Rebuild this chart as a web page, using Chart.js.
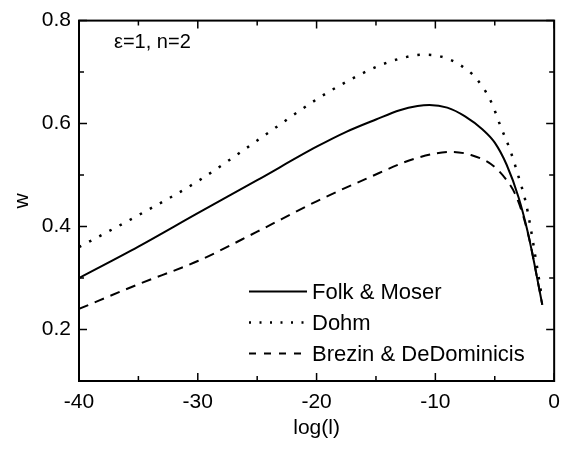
<!DOCTYPE html>
<html>
<head>
<meta charset="utf-8">
<script src="https://cdn.jsdelivr.net/npm/chart.js@4.4.1/dist/chart.umd.min.js"></script>
<style>body{margin:0;background:#fff}</style>
</head>
<body>
<canvas id="wchart" width="569" height="449"></canvas>
<script>
// curves
var fmX = [-40, -35, -30, -25, -20, -17.5, -15, -13, -11.5, -10.5, -9, -7.5, -6, -5, -4, -3, -2.2, -1.6, -1.0];
var fmY = [0.300, 0.361, 0.426, 0.490, 0.555, 0.584, 0.608, 0.626, 0.634, 0.636, 0.631, 0.614, 0.588, 0.563, 0.520, 0.457, 0.387, 0.320, 0.248];

var dohmX = [-40, -35, -30, -25, -20, -17.5, -15, -13, -11, -9.5, -8, -6.5, -5.3, -4.5, -3.7, -3.0, -2.4, -2.0, -1.5, -1.1];
var dohmY = [0.360, 0.422, 0.488, 0.567, 0.647, 0.681, 0.710, 0.726, 0.734, 0.730, 0.715, 0.686, 0.642, 0.594, 0.548, 0.497, 0.448, 0.400, 0.330, 0.272];

var bdX = [-40, -35, -30, -25, -20, -15.8, -11.7, -8.6, -7, -5.3, -4.1, -3.3, -2.6, -2.0, -1.5, -1.0];
var bdY = [0.240, 0.288, 0.333, 0.390, 0.449, 0.493, 0.532, 0.545, 0.539, 0.521, 0.493, 0.464, 0.420, 0.366, 0.308, 0.248];

var seriesNames = ['Folk & Moser', 'Dohm', 'Brezin & DeDominicis'];

// axis ticks
var xTickValues = [-40, -30, -20, -10, 0];
var xMinorTicks = [-35, -25, -15, -5];
var yTickValues = [0.2, 0.4, 0.6, 0.8];
var yMinorTicks = [0.3, 0.5, 0.7];

function toPoints(xs, ys) {
    return xs.map(function (v, i) { return {x: v, y: ys[i]}; });
}

Chart.defaults.font.family = '"Liberation Sans", Arial, sans-serif';
Chart.defaults.color = '#000';

// frame with inward ticks on all four sides
var boxTicks = {
    id: 'boxTicks',
    afterDraw: function (chart) {
        var ctx = chart.ctx, a = chart.chartArea;
        var x = chart.scales.x, y = chart.scales.y;
        ctx.save();
        ctx.strokeStyle = '#000';
        ctx.lineWidth = 2;
        ctx.strokeRect(a.left, a.top, a.right - a.left, a.bottom - a.top);
        ctx.lineWidth = 1.5;
        ctx.beginPath();
        xTickValues.concat(xMinorTicks).forEach(function (v) {
            var px = x.getPixelForValue(v);
            var len = xTickValues.indexOf(v) >= 0 ? 8 : 5;
            ctx.moveTo(px, a.bottom); ctx.lineTo(px, a.bottom - len);
            ctx.moveTo(px, a.top); ctx.lineTo(px, a.top + len);
        });
        yTickValues.concat(yMinorTicks).forEach(function (v) {
            var py = y.getPixelForValue(v);
            var len = yTickValues.indexOf(v) >= 0 ? 8 : 5;
            ctx.moveTo(a.left, py); ctx.lineTo(a.left + len, py);
            ctx.moveTo(a.right, py); ctx.lineTo(a.right - len, py);
        });
        ctx.stroke();
        ctx.restore();
    }
};

// legend in the lower right and the parameter note
var legendNote = {
    id: 'legendNote',
    afterDraw: function (chart) {
        var ctx = chart.ctx, a = chart.chartArea;
        var dashes = [[], [2, 8.5], [7, 8]];
        ctx.save();
        ctx.fillStyle = '#000';
        ctx.strokeStyle = '#000';
        ctx.textBaseline = 'middle';
        ctx.font = '22px "Liberation Sans", Arial, sans-serif';
        chart.data.datasets.forEach(function (ds, i) {
            var ly = a.top + 271 + i * 31;
            ctx.lineWidth = ds.borderWidth;
            ctx.setLineDash(dashes[i]);
            ctx.beginPath();
            ctx.moveTo(a.left + 170, ly);
            ctx.lineTo(a.left + 228, ly);
            ctx.stroke();
            ctx.fillText(ds.label, a.left + 233, ly + 1);
        });
        ctx.setLineDash([]);
        ctx.font = '20px "Liberation Sans", Arial, sans-serif';
        ctx.fillText('\u03b5=1, n=2', a.left + 35, a.top + 22);
        ctx.restore();
    }
};

var ctx = document.getElementById('wchart').getContext('2d');
var chart = new Chart(ctx, {
    type: 'line',
    data: {
        datasets: [{
            label: seriesNames[0],
            data: toPoints(fmX, fmY),
            borderColor: '#000',
            borderWidth: 2
        }, {
            label: seriesNames[1],
            data: toPoints(dohmX, dohmY),
            borderColor: '#000',
            borderWidth: 2.5,
            borderDash: [2.5, 9]
        }, {
            label: seriesNames[2],
            data: toPoints(bdX, bdY),
            borderColor: '#000',
            borderWidth: 2,
            borderDash: [10, 7]
        }]
    },
    options: {
        responsive: false,
        animation: false,
        layout: {padding: {top: 18, right: 13, left: 0, bottom: 0}},
        elements: {
            point: {radius: 0},
            line: {cubicInterpolationMode: 'monotone'}
        },
        plugins: {
            legend: {display: false},
            tooltip: {enabled: false}
        },
        scales: {
            x: {
                type: 'linear',
                min: -40,
                max: 0,
                grid: {display: false, drawTicks: false},
                border: {display: false},
                ticks: {font: {size: 21}, padding: 9, maxRotation: 0},
                afterBuildTicks: function (s) {
                    s.ticks = xTickValues.map(function (v) { return {value: v}; });
                },
                afterFit: function (s) { s.height = 68; },
                title: {display: true, text: 'log(l)', font: {size: 21}, padding: {top: 0, bottom: 8}}
            },
            y: {
                min: 0.1,
                max: 0.8,
                grid: {display: false, drawTicks: false},
                border: {display: false},
                ticks: {
                    font: {size: 21},
                    padding: 8,
                    callback: function (v) { return v.toFixed(1); }
                },
                afterBuildTicks: function (s) {
                    s.ticks = yTickValues.map(function (v) { return {value: v}; });
                },
                afterFit: function (s) { s.width = 79; },
                title: {display: true, text: 'w', font: {size: 21}, padding: {top: 10, bottom: 0}}
            }
        }
    },
    plugins: [boxTicks, legendNote]
});
</script>
</body>
</html>
